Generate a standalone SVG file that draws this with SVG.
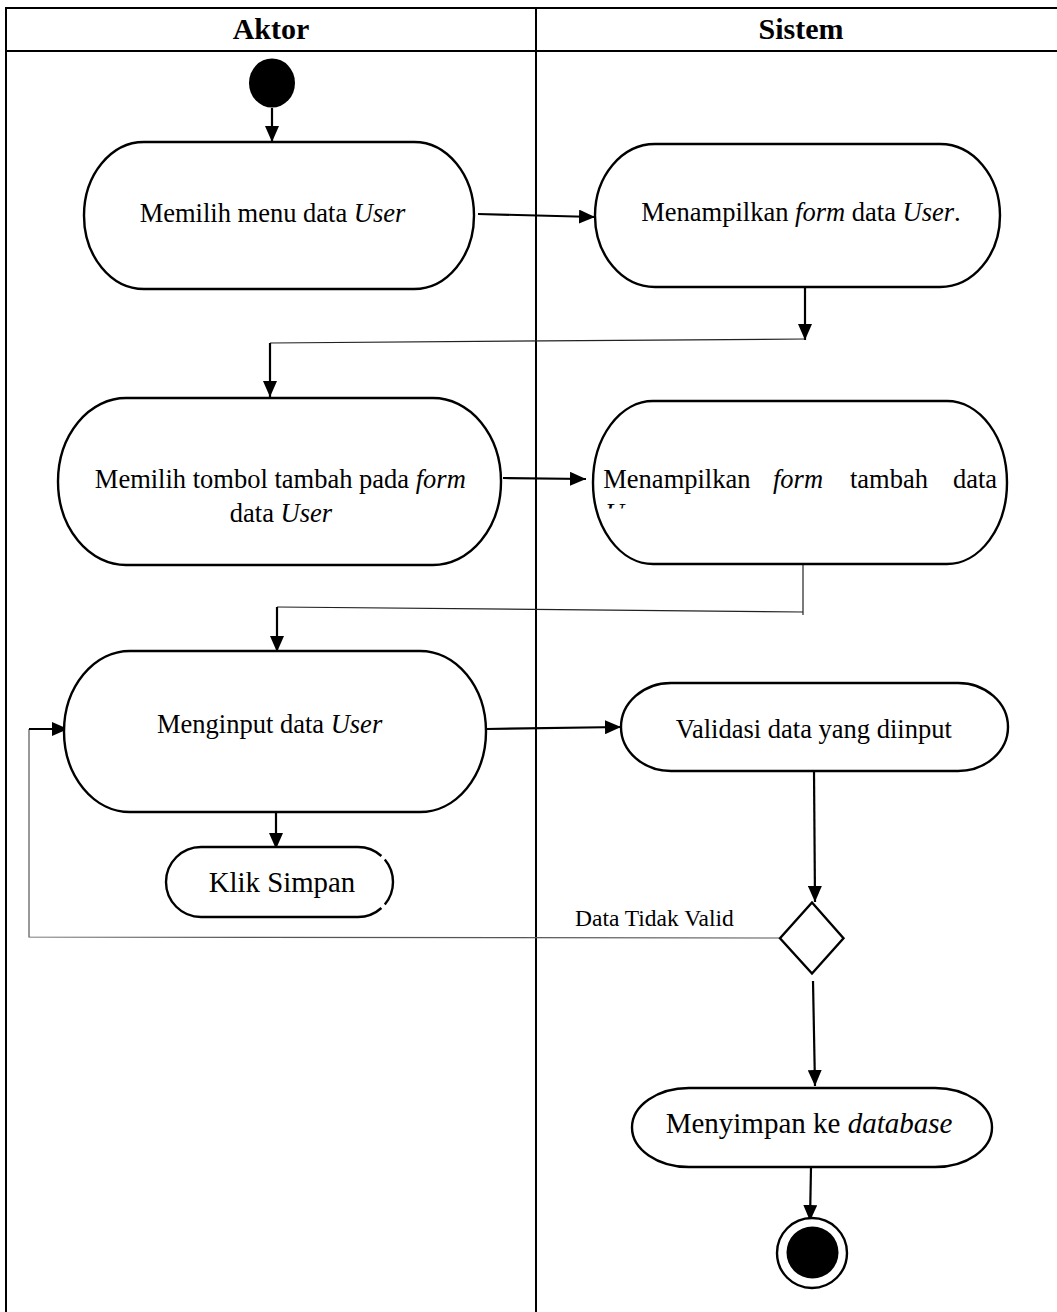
<svg xmlns="http://www.w3.org/2000/svg" width="1057" height="1312" viewBox="0 0 1057 1312">
<style>
.t{font-family:"Liberation Serif","Times New Roman",serif;fill:#000}
.node{fill:#fff;stroke:#000;stroke-width:2.4}
.grid{stroke:#000;stroke-width:2;fill:none}
.c{stroke:#000;stroke-width:2.2;fill:none}
.thin{stroke:#222;stroke-width:1.2;fill:none}
.gray{stroke:#555;stroke-width:1.2;fill:none}
</style>
<defs>
<marker id="ah" viewBox="0 0 16 14" refX="16" refY="7" markerWidth="16" markerHeight="14" markerUnits="userSpaceOnUse" orient="auto">
<path d="M0,0 L16,7 L0,14 Z" fill="#000"/>
</marker>
<clipPath id="cutU"><rect x="595" y="495" width="100" height="13.5"/></clipPath>
</defs>
<rect x="0" y="0" width="1057" height="1312" fill="#fff"/>
<g id="table">
<line class="grid" x1="6" y1="8" x2="1057" y2="8"/>
<line class="grid" x1="6" y1="51" x2="1057" y2="51"/>
<line class="grid" x1="6" y1="7" x2="6" y2="1312"/>
<line class="grid" x1="536" y1="8" x2="536" y2="1312"/>
<text class="t" x="271" y="38.5" font-size="30" font-weight="bold" text-anchor="middle">Aktor</text>
<text class="t" x="801" y="38.5" font-size="30" font-weight="bold" text-anchor="middle">Sistem</text>
</g>
<g id="connectors">
<line class="c" x1="272" y1="108" x2="272" y2="142" marker-end="url(#ah)"/>
<line class="c" x1="478" y1="214" x2="595" y2="217" marker-end="url(#ah)"/>
<line class="c" x1="805" y1="287" x2="805" y2="340" marker-end="url(#ah)"/>
<line class="thin" x1="805" y1="339" x2="270" y2="343"/>
<line class="c" x1="270" y1="343" x2="270" y2="397" marker-end="url(#ah)"/>
<line class="c" x1="503" y1="478" x2="586" y2="479" marker-end="url(#ah)"/>
<line class="thin" x1="803" y1="564" x2="803" y2="615"/>
<line class="thin" x1="803" y1="612" x2="277" y2="607"/>
<line class="c" x1="277" y1="607" x2="277" y2="652" marker-end="url(#ah)"/>
<line class="c" x1="276" y1="812" x2="276" y2="849" marker-end="url(#ah)"/>
<line class="c" x1="486" y1="729" x2="621" y2="727" marker-end="url(#ah)"/>
<line class="c" x1="814" y1="771" x2="815" y2="902" marker-end="url(#ah)"/>
<polyline class="gray" points="780,938 29,937 29,729"/>
<line class="c" x1="29" y1="729" x2="68" y2="729" marker-end="url(#ah)"/>
<line class="c" x1="813" y1="981" x2="815" y2="1086" marker-end="url(#ah)"/>
<line class="c" x1="811" y1="1167" x2="810" y2="1221" marker-end="url(#ah)"/>
<text class="t" x="575" y="926" font-size="23.5">Data Tidak Valid</text>
</g>
<g id="start">
<ellipse cx="272" cy="83" rx="23" ry="24.5" fill="#000"/>
</g>
<g id="n1">
<rect class="node" x="84" y="142" width="390" height="147" rx="60" ry="73.5"/>
<text class="t" x="272.5" y="222" font-size="26.5" text-anchor="middle">Memilih menu data <tspan font-style="italic">User</tspan></text>
</g>
<g id="n2">
<rect class="node" x="595" y="144" width="405" height="143" rx="60" ry="71.5"/>
<text class="t" x="801" y="221" font-size="26.5" text-anchor="middle">Menampilkan <tspan font-style="italic">form</tspan> data <tspan font-style="italic">User</tspan>.</text>
</g>
<g id="n3">
<rect class="node" x="58" y="398" width="443" height="167" rx="68" ry="83.5"/>
<text class="t" x="280.3" y="487.5" font-size="26.5" text-anchor="middle">Memilih tombol tambah pada <tspan font-style="italic">form</tspan></text>
<text class="t" x="281" y="521.5" font-size="26.5" text-anchor="middle">data <tspan font-style="italic">User</tspan></text>
</g>
<g id="n4">
<rect class="node" x="593" y="401" width="414" height="163" rx="60" ry="81.5"/>
<text class="t" y="487.5" font-size="26.5"><tspan x="603.3">Menampilkan</tspan><tspan x="773" font-style="italic">form</tspan><tspan x="850">tambah</tspan><tspan x="953">data</tspan></text>
<text class="t" x="605" y="521.5" font-size="26.5" font-style="italic" clip-path="url(#cutU)">User</text>
</g>
<g id="n5">
<rect class="node" x="64" y="651" width="422" height="161" rx="66" ry="80.5"/>
<text class="t" x="269.6" y="733" font-size="26.5" text-anchor="middle">Menginput data <tspan font-style="italic">User</tspan></text>
</g>
<g id="n5b">
<path class="node" d="M381.4,856 A35,35 0 0 0 358,847 L201,847 A35,35 0 0 0 201,917 L358,917 A35,35 0 0 0 381.4,908"/>
<path class="node" d="M384.8,859.5 A35,35 0 0 1 384.8,904.5" fill="none"/>
<text class="t" x="282" y="891.7" font-size="28.8" text-anchor="middle">Klik Simpan</text>
</g>
<g id="n6">
<rect class="node" x="621" y="683" width="387" height="88" rx="50" ry="44"/>
<text class="t" x="813.8" y="738" font-size="26.5" text-anchor="middle">Validasi data yang diinput</text>
</g>
<g id="decision">
<polygon class="node" points="812,902.5 843.5,938.3 812,973.5 780,938.3"/>
</g>
<g id="n7">
<rect class="node" x="632" y="1088" width="360" height="79" rx="57" ry="39.5"/>
<text class="t" x="809" y="1133.3" font-size="29" text-anchor="middle">Menyimpan ke <tspan font-style="italic">database</tspan></text>
</g>
<g id="end">
<circle cx="812" cy="1253" r="35" fill="#fff" stroke="#000" stroke-width="2.4"/>
<circle cx="812.5" cy="1252.5" r="26" fill="#000"/>
</g>
</svg>
